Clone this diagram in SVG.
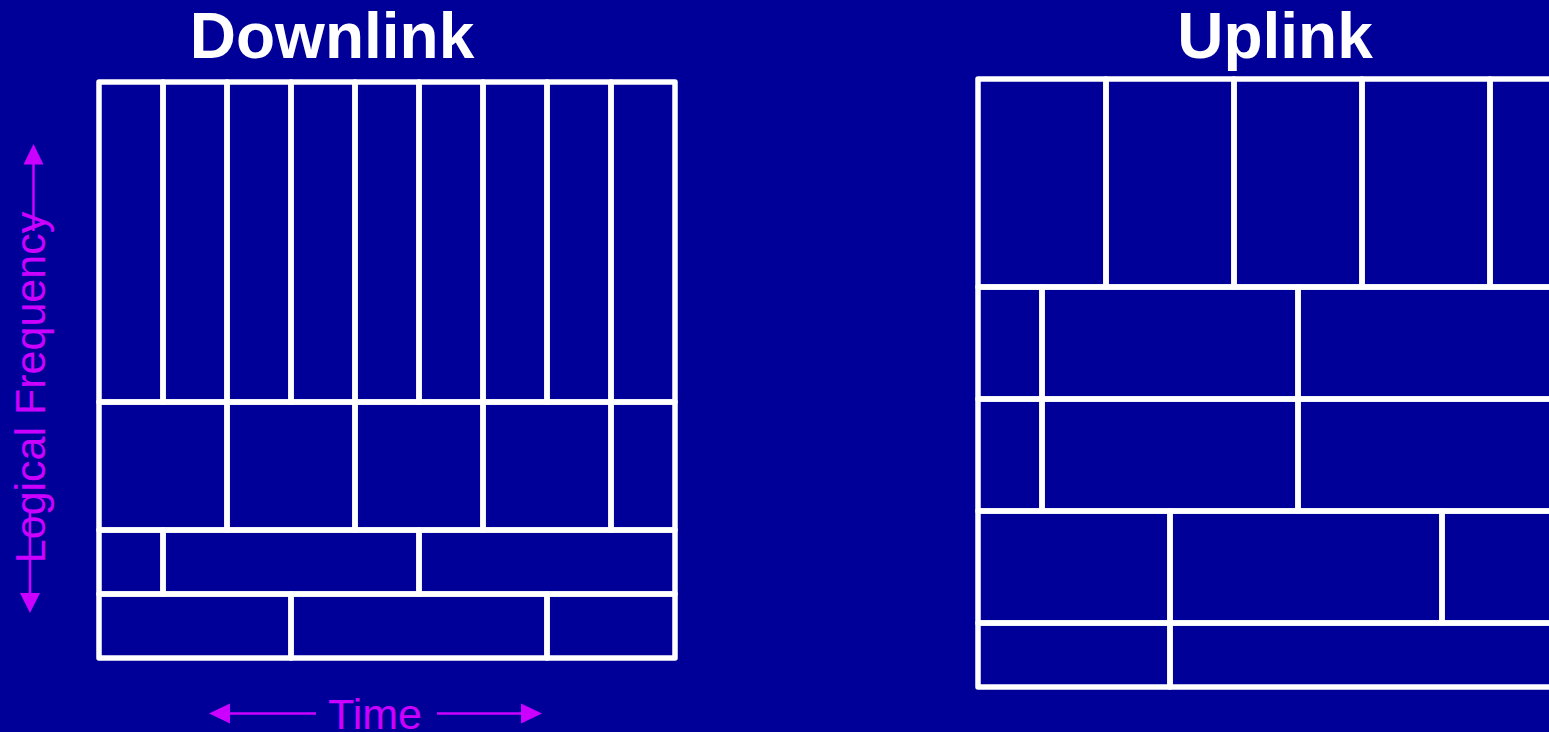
<svg xmlns="http://www.w3.org/2000/svg" width="1549" height="732" viewBox="0 0 1549 732">
<style>
.cell{fill:none;stroke:#ffffff;stroke-width:5.5;stroke-linejoin:round}
.title{font-family:"Liberation Sans",Arial,sans-serif;font-weight:bold;font-size:64px;fill:#ffffff;text-anchor:middle}
.axis{font-family:"Liberation Sans",Arial,sans-serif;font-size:43px;fill:#cc00ff;text-anchor:middle}
.shaft{stroke:#cc00ff;stroke-width:2.5;fill:none}
.head{fill:#cc00ff}
</style>
<rect x="0" y="0" width="1549" height="732" fill="#000099"/>
<text class="title" x="332" y="58">Downlink</text>
<text class="title" x="1275" y="58">Uplink</text>
<g id="downlink">
<g id="dl-r1">
<rect class="cell" x="99" y="82" width="64" height="320"/>
<rect class="cell" x="163" y="82" width="64" height="320"/>
<rect class="cell" x="227" y="82" width="64" height="320"/>
<rect class="cell" x="291" y="82" width="64" height="320"/>
<rect class="cell" x="355" y="82" width="64" height="320"/>
<rect class="cell" x="419" y="82" width="64" height="320"/>
<rect class="cell" x="483" y="82" width="64" height="320"/>
<rect class="cell" x="547" y="82" width="64" height="320"/>
<rect class="cell" x="611" y="82" width="64" height="320"/>
</g>
<g id="dl-r2">
<rect class="cell" x="99" y="402" width="128" height="128"/>
<rect class="cell" x="227" y="402" width="128" height="128"/>
<rect class="cell" x="355" y="402" width="128" height="128"/>
<rect class="cell" x="483" y="402" width="128" height="128"/>
<rect class="cell" x="611" y="402" width="64" height="128"/>
</g>
<g id="dl-r3">
<rect class="cell" x="99" y="530" width="64" height="64"/>
<rect class="cell" x="163" y="530" width="256" height="64"/>
<rect class="cell" x="419" y="530" width="256" height="64"/>
</g>
<g id="dl-r4">
<rect class="cell" x="99" y="594" width="192" height="64"/>
<rect class="cell" x="291" y="594" width="256" height="64"/>
<rect class="cell" x="547" y="594" width="128" height="64"/>
</g>
</g>
<g id="uplink">
<g id="ul-r1">
<rect class="cell" x="978" y="79" width="128" height="208"/>
<rect class="cell" x="1106" y="79" width="128" height="208"/>
<rect class="cell" x="1234" y="79" width="128" height="208"/>
<rect class="cell" x="1362" y="79" width="128" height="208"/>
<rect class="cell" x="1490" y="79" width="128" height="208"/>
</g>
<g id="ul-r2">
<rect class="cell" x="978" y="287" width="64" height="112"/>
<rect class="cell" x="1042" y="287" width="256" height="112"/>
<rect class="cell" x="1298" y="287" width="320" height="112"/>
</g>
<g id="ul-r3">
<rect class="cell" x="978" y="399" width="64" height="112"/>
<rect class="cell" x="1042" y="399" width="256" height="112"/>
<rect class="cell" x="1298" y="399" width="320" height="112"/>
</g>
<g id="ul-r4">
<rect class="cell" x="978" y="511" width="192" height="112"/>
<rect class="cell" x="1170" y="511" width="272" height="112"/>
<rect class="cell" x="1442" y="511" width="176" height="112"/>
</g>
<g id="ul-r5">
<rect class="cell" x="978" y="623" width="192" height="64"/>
<rect class="cell" x="1170" y="623" width="448" height="64"/>
</g>
</g>
<text class="axis" x="375" y="729">Time</text>
<text class="axis" transform="translate(45,387.5) rotate(-90)">Logical Frequency</text>
<g id="connectors">
<line class="shaft" x1="316" y1="713.5" x2="226" y2="713.5"/>
<polygon class="head" points="209,713.5 230,703.5 230,723.5"/>
<line class="shaft" x1="437" y1="713.5" x2="525" y2="713.5"/>
<polygon class="head" points="542,713.5 521,703.5 521,723.5"/>
<line class="shaft" x1="33.5" y1="161" x2="33.5" y2="231"/>
<polygon class="head" points="33.5,144 23.5,164.5 43.5,164.5"/>
<line class="shaft" x1="30" y1="510" x2="30" y2="596"/>
<polygon class="head" points="30,613 20,593 40,593"/>
</g>
</svg>
